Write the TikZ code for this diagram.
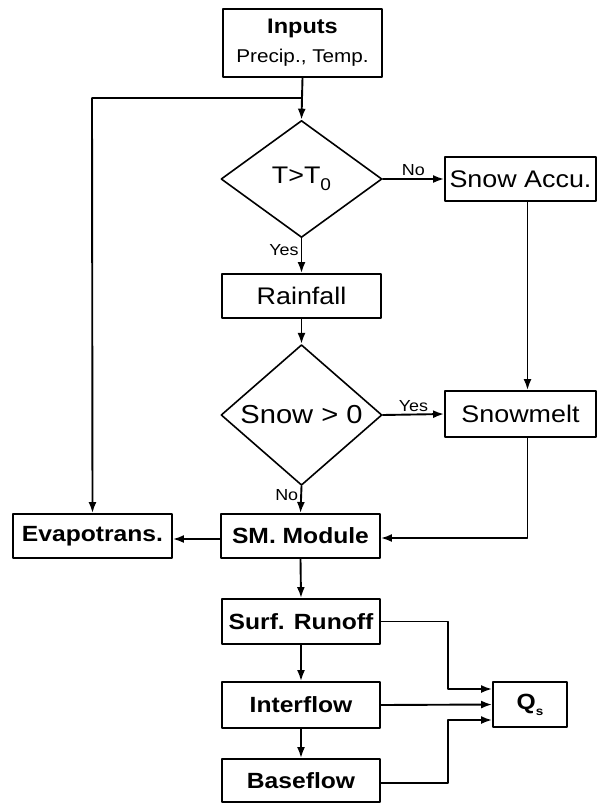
\documentclass[tikz,border=0pt]{standalone}
\usepackage{fontspec}
\setmainfont{Liberation Sans}[FakeStretch=1.12]
\usetikzlibrary{shapes.geometric,arrows.meta}

\begin{document}
\begin{tikzpicture}[x=1pt,y=-1pt,line cap=round,line join=round,
  box/.style={draw,line width=1.9pt,inner sep=0pt,font=\fontsize{24}{28}\selectfont},
  bbox/.style={box,font=\fontsize{22}{26}\selectfont\bfseries},
  cond/.style={draw,diamond,line width=1.6pt,inner sep=0pt,minimum width=161pt,minimum height=117pt,font=\fontsize{24}{28}\selectfont},
  arr/.style={line width=1.9pt,-{Latex[length=11pt,width=8pt]}},
  lbl/.style={font=\fontsize{16}{18}\selectfont,inner sep=2pt}]
  \useasboundingbox (0,0) rectangle (597,803);
  \node[box,minimum width=159pt,minimum height=68pt,align=center] (inputs) at (302.5,43)
    {{\fontsize{21}{24}\selectfont\bfseries Inputs}\\[1pt]{\fontsize{18.5}{22}\selectfont Precip., Temp.}};
  \coordinate (split) at (302,98);
  \coordinate (lside) at (92,98);
  \node[cond] (tcheck) at (301.5,179) {T>T\raisebox{-0.55ex}{\fontsize{17}{18}\selectfont 0}};
  \node[box,minimum width=151pt,minimum height=44pt] (snowacc) at (520.5,179) {Snow Accu.};
  \node[box,minimum width=159pt,minimum height=44pt] (rain) at (301.5,296) {Rainfall};
  \node[cond,font=\fontsize{26}{28}\selectfont] (scheck) at (301.5,415) {Snow > 0};
  \node[box,minimum width=151pt,minimum height=46pt] (melt) at (520.5,414) {Snowmelt};
  \node[bbox,minimum width=159pt,minimum height=44pt] (evap) at (92.5,536) {Evapotrans.};
  \node[bbox,minimum width=159pt,minimum height=44pt] (smm) at (300.5,536) {SM. Module};
  \node[bbox,minimum width=158pt,minimum height=45pt] (surf) at (301,621.5) {Surf. Runoff};
  \node[bbox,minimum width=158pt,minimum height=46pt] (inter) at (301,705) {Interflow};
  \node[bbox,minimum width=158pt,minimum height=43pt] (base) at (301,780.5) {Baseflow};
  \node[bbox,minimum width=74pt,minimum height=45pt] (qs) at (530,704.5)
    {Q\raisebox{-0.5ex}{\fontsize{12}{14}\selectfont s}};
  \coordinate (merge) at (448,0);
  \draw[line width=1.9pt] (inputs.south) -- (split);
  \draw[arr] (split) -- (tcheck.north);
  \draw[arr] (split) -- (lside) -- (evap.north);
  \draw[arr] (tcheck.east) -- node[lbl,above] {No} (snowacc.west);
  \draw[arr] (tcheck.south) -- node[lbl,left,pos=0.35] {Yes} (rain.north);
  \draw[arr] (rain.south) -- (scheck.north);
  \draw[arr] (scheck.east) -- node[lbl,above] {Yes} (melt.west);
  \draw[arr] (scheck.south) -- node[lbl,left,pos=0.35] {No} (smm.north);
  \draw[arr] ([xshift=7pt]snowacc.south) -- ([xshift=7pt]melt.north);
  \draw[arr] ([xshift=7pt]melt.south) |- ([yshift=-2pt]smm.east);
  \draw[arr] ([yshift=-3pt]smm.west) -- ([yshift=-3pt]evap.east);
  \draw[arr] (smm.south) -- (surf.north);
  \draw[arr] (surf.south) -- (inter.north);
  \draw[arr] (inter.south) -- (base.north);
  \draw[arr] (surf.east) -- (surf.east -| merge) |- ([yshift=15.5pt]qs.west);
  \draw[arr] (inter.east) -- (qs.west);
  \draw[arr] ([yshift=-2.5pt]base.east) -- ([yshift=-2.5pt]base.east -| merge) |- ([yshift=-15.5pt]qs.west);
\end{tikzpicture}
\end{document}
